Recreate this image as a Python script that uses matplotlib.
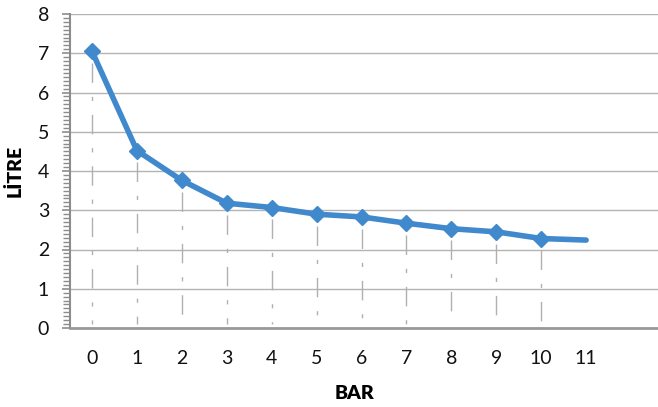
import matplotlib
matplotlib.use("Agg")
import matplotlib.pyplot as plt
from matplotlib.ticker import MultipleLocator

bar = [0, 1, 2, 3, 4, 5, 6, 7, 8, 9, 10, 11]
litre = [7.05, 4.52, 3.76, 3.18, 3.07, 2.90, 2.83, 2.67, 2.53, 2.45, 2.28, 2.24]
x_ticklabels = ["0", "1", "2", "3", "4", "5", "6", "7", "8", "9", "10", "11"]
y_ticks = [0, 1, 2, 3, 4, 5, 6, 7, 8]

plt.rcParams['font.family'] = ['Lato', 'DejaVu Sans']

fig = plt.figure(figsize=(6.58, 4.07), dpi=100)
ax = fig.add_axes([70/658, (407-328)/407, 588/658, (328-14)/407])

blue = '#4189CD'
n_marked = 11

# drop lines from marked points down to zero
for xi, yi in zip(bar[:n_marked], litre[:n_marked]):
    ax.plot([xi, xi], [yi - 0.3, 0.1], color='#b0b0b0', lw=1.0,
            dashes=(14, 10, 3, 10), zorder=1)

ax.plot(bar, litre, color=blue, lw=4.0, solid_capstyle='round',
        solid_joinstyle='round', zorder=3)
ax.plot(bar[:n_marked], litre[:n_marked], linestyle='none', marker='D',
        ms=7.8, color=blue, mec=blue, zorder=4)

ax.set_xlim(-0.49, 12.6)
ax.set_ylim(0, 8)
ax.set_yticks(y_ticks)
ax.yaxis.set_minor_locator(MultipleLocator(0.1))
ax.set_xticks(bar)
ax.set_xticklabels(x_ticklabels)

ax.grid(axis='y', which='major', color='#b3b3b3', lw=1.0)
ax.set_axisbelow(True)

for s in ['top', 'right']:
    ax.spines[s].set_visible(False)
ax.spines['left'].set_color('#8c8c8c')
ax.spines['left'].set_linewidth(1.5)
ax.spines['bottom'].set_color('#999999')
ax.spines['bottom'].set_linewidth(2.0)

ax.tick_params(axis='y', which='major', length=6, width=1.2, color='#8c8c8c',
               labelsize=14, pad=9, labelcolor='#111111')
ax.tick_params(axis='y', which='minor', length=5, width=1.0, color='#8c8c8c')
ax.tick_params(axis='x', length=0, labelsize=14, pad=16, labelcolor='#111111')

ax.set_ylabel('LİTRE', fontsize=14, fontweight='heavy', labelpad=10)
ax.set_xlabel('BAR', fontsize=14, fontweight='heavy')
ax.xaxis.set_label_coords((354-70)/588, -0.18)

fig.savefig('out.png', dpi=100)
